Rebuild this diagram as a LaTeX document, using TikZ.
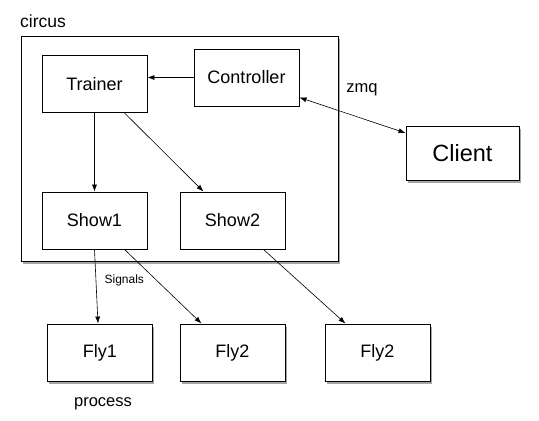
\documentclass[tikz,border=0pt]{standalone}
\usepackage{fontspec}
\setmainfont{Liberation Sans}
\usepackage{tikz}
\usetikzlibrary{arrows.meta,shadows}

\tikzset{
  box/.style={draw, line width=0.9pt, fill=white, minimum width=105pt, minimum height=57pt,
    inner sep=0pt, font=\fontsize{18}{20}\selectfont},
  softshadow/.style={drop shadow={shadow xshift=1.5pt, shadow yshift=-3pt, opacity=0.5, fill=black!70}},
  shadowbox/.style={box, softshadow},
  link/.style={line width=0.6pt, -{Latex[length=7pt,width=5pt]}}
}

\begin{document}
\begin{tikzpicture}[x=1pt,y=-1pt]
  \useasboundingbox (0,0) rectangle (539,421);

  % circus frame
  \draw[line width=0.9pt, fill=white, softshadow] (21,36) rectangle (338,261);
  \node[anchor=west, inner sep=0pt, font=\fontsize{17.5}{20}\selectfont] (circuslbl) at (20,21) {circus};

  % processes inside
  \node[box] (trainer) at (94.5,84) {Trainer};
  \node[box] (controller) at (246.5,77.5) {Controller};
  \node[box] (show1) at (94.5,220.5) {Show1};
  \node[box] (show2) at (232.5,220.5) {Show2};

  % outside
  \node[shadowbox, minimum width=113pt, minimum height=54pt, font=\fontsize{23.5}{26}\selectfont] (client) at (462.5,153) {Client};
  \node[shadowbox] (fly1) at (100,352.5) {Fly1};
  \node[shadowbox] (fly2) at (232.5,352.5) {Fly2};
  \node[shadowbox] (fly3) at (377.5,352.5) {Fly2};

  \node[font=\fontsize{16.5}{18}\selectfont] (zmq) at (362,90) {zmq};
  \node[font=\fontsize{16.5}{18}\selectfont] (process) at (103,404) {process};

  % connectors
  \draw[link] (controller.west) -- (trainer.east |- controller.west);
  \draw[link, {Latex[length=7pt,width=5pt]}-{Latex[length=7pt,width=5pt]}]
    ([yshift=-20pt]controller.east) -- ([yshift=20pt]client.west);
  \draw[link] (trainer.south) -- (show1.north);
  \draw[link] ([xshift=30pt]trainer.south) -- ([xshift=-29pt]show2.north);
  \draw[link] (show1.south) -- node[pos=0.42, right=5pt, font=\fontsize{12}{14}\selectfont] {Signals} ([xshift=-2pt]fly1.north);
  \draw[link] ([xshift=30pt]show1.south) -- ([xshift=-31pt]fly2.north);
  \draw[link] ([xshift=31pt]show2.south) -- ([xshift=-32pt]fly3.north);
\end{tikzpicture}
\end{document}
